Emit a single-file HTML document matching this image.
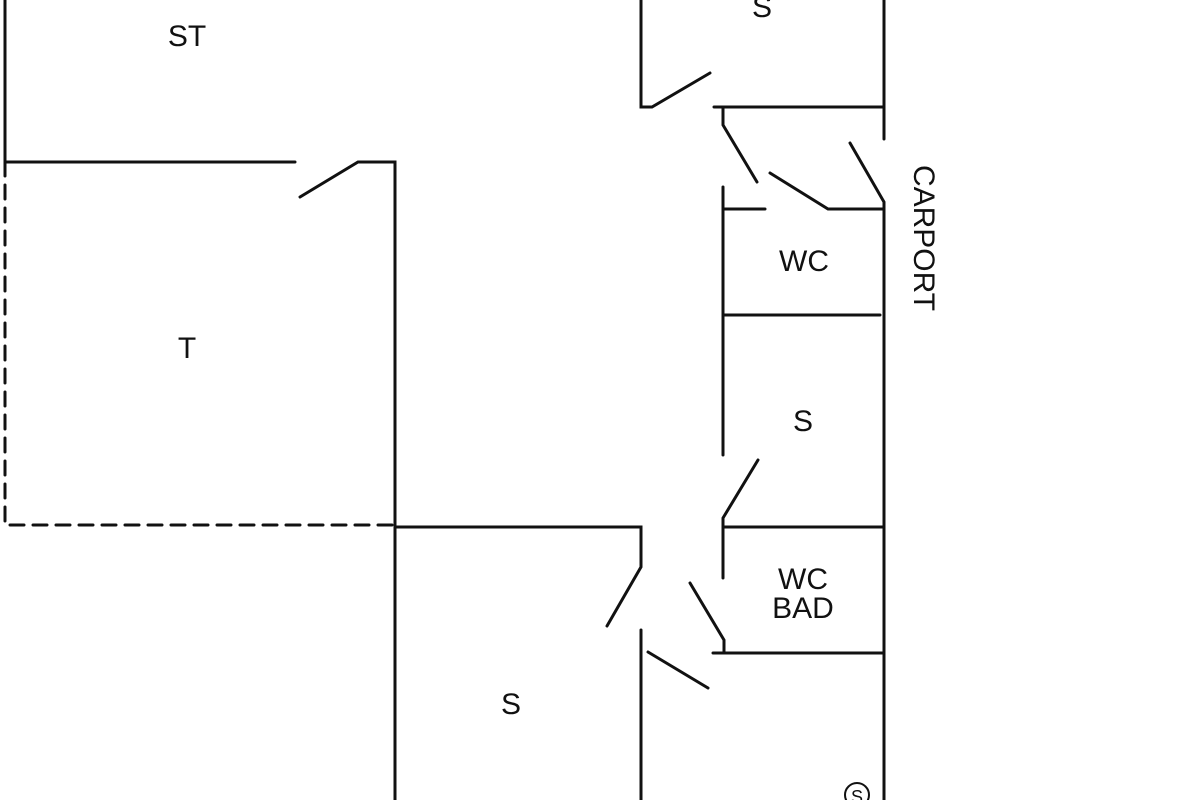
<!DOCTYPE html>
<html><head><meta charset="utf-8"><style>
html,body{margin:0;padding:0;background:#fff}
svg{display:block}
text{font-family:"Liberation Sans",sans-serif;font-size:30px;fill:#111;text-anchor:middle}
</style></head><body>
<svg width="1200" height="800" viewBox="0 0 1200 800">
<g stroke="#111" stroke-width="3" fill="none" stroke-linecap="round">
<path d="M5 0V162H295"/>
<path d="M300 197L358 162H395V800"/>
<path d="M5 162V525H395" stroke-dasharray="14 9"/>
<path d="M395 527H641V567L607 626"/>
<path d="M641 630V800"/>
<path d="M648 652L708 688"/>
<path d="M641 0V107L652 107L710 73"/>
<path d="M714 107H884"/>
<path d="M884 0V139"/>
<path d="M723 107V125L757 182"/>
<path d="M770 173L828 209H884"/>
<path d="M850 143L884 202V800"/>
<path d="M723 187V455"/>
<path d="M723 209H765"/>
<path d="M723 315H880"/>
<path d="M758 460L723 518V578"/>
<path d="M723 527H884"/>
<path d="M690 583L724 640V653"/>
<path d="M713 653H884"/>
<circle cx="857" cy="795" r="12" stroke-width="2"/>
</g>
<text x="187" y="46">ST</text>
<text x="187" y="358">T</text>
<text x="762" y="17">S</text>
<text x="804" y="271">WC</text>
<text x="803" y="431">S</text>
<text x="803" y="589">WC</text>
<text x="803" y="618">BAD</text>
<text x="511" y="714">S</text>
<text x="857" y="803" style="font-size:18px">S</text>
<text transform="translate(914,238) rotate(90)" style="font-size:30px">CARPORT</text>
</svg>
</body></html>
